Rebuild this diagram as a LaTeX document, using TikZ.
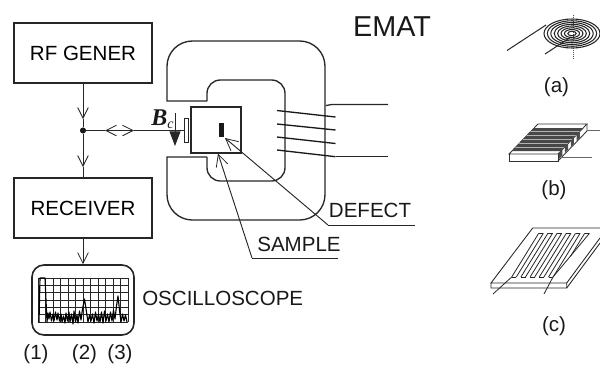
\documentclass[tikz,border=0pt]{standalone}
\usepackage{fontspec}
\setmainfont{Liberation Sans}
\newfontfamily\serifbi[BoldFont={Liberation Serif Bold Italic},ItalicFont={Liberation Serif Italic}]{Liberation Serif}
\usetikzlibrary{arrows.meta}
\tikzset{
  box/.style={draw=black!85,line width=1.2pt,minimum width=103.5pt,minimum height=45pt,inner sep=0pt,font=\lab},
  lab/.style={inner sep=0pt,font=\lab,text=black!90},
  thin line/.style={draw=black!85,line width=0.7pt},
  med line/.style={draw=black!85,line width=0.95pt},
  barb/.style={thin line,-{Straight Barb[length=8pt,width=8pt,line width=0.6pt]}},
  bigbarb/.style={thin line,-{Straight Barb[length=9pt,width=9pt,line width=0.6pt]}},
}
\newcommand{\lab}{\fontsize{15.4}{18}\selectfont}
\begin{document}
\begin{tikzpicture}[x=0.75pt,y=-0.75pt]
\useasboundingbox (0,0) rectangle (600,365);
% block diagram
\node[box] (rf) at (83,53) {RF GENER};
\node[box] (rx) at (83,208) {RECEIVER};
\node[circle,fill=black!90,minimum size=4.6pt,inner sep=0pt] (j) at (83,130.5) {};
\coordinate (t1) at (83,119);
\coordinate (t2) at (83,167);
\draw[barb] (rf.south) -- (t1);
\draw[thin line] (t1) -- (j);
\draw[barb] (j) -- (t2);
\draw[thin line] (t2) -- (rx.north);
% scope
\node[draw=black!85,line width=1.2pt,rounded corners=9pt,minimum width=76.5pt,minimum height=52.5pt,inner sep=0pt] (scope) at (83,300) {};
\draw[barb] (rx.south) -- (scope.north);
\foreach \x in {38,45.5,53,60.5,68,75.5,83,90.5,98,105.5,113,120.5,128}
  \draw[black!85,line width=0.55pt] (\x,278) -- (\x,322);
\foreach \y in {278,285.3,292.6,299.9,307.2,314.5,322}
  \draw[black!85,line width=0.55pt] (38,\y) -- (128,\y);
\draw[black,line width=0.85pt,line join=round] (39,322) -- (40,278) -- (45,278) -- (47,322) -- (48,313) -- (49,319) -- (50,312) -- (51.5,321) -- (53,314) -- (54,321) -- (55.5,312) -- (57,320) -- (58,313) -- (59.5,321) -- (61,314) -- (62,322) -- (63.5,316) -- (65,323) -- (66,313) -- (67.5,321) -- (69,312) -- (70,322) -- (71.5,314) -- (73,324) -- (74,311) -- (75.5,322) -- (77,315) -- (78,323) -- (79.5,311) -- (81,320) -- (82.5,309) -- (84.5,299) -- (86.5,312) -- (88,322) -- (89.5,315) -- (91,321) -- (92.5,314) -- (94,323) -- (95.5,312) -- (97,321) -- (98.5,314) -- (100,322) -- (101.5,312) -- (103,323) -- (104.5,311) -- (106,321) -- (107.5,314) -- (109,322) -- (110.5,312) -- (112,321) -- (113.5,310) -- (115,319) -- (116.5,306) -- (118,296) -- (119.5,310) -- (121,322) -- (122.5,314) -- (124,321) -- (125.5,315) -- (127,322);
\node[lab,anchor=west] (osc) at (142,298) {OSCILLOSCOPE};
\node[lab] (l1) at (36,354) {(1)};
\node[lab] (l2) at (84.5,354) {(2)};
\node[lab] (l3) at (120,354) {(3)};
\node[lab,font=\fontsize{21.6}{24}\selectfont] (emat) at (392,27) {EMAT};
% magnet
\draw[black!85,line width=1pt]
  (207,157) -- (167,157) [rounded corners=19pt] -- (167,220) -- (325,220) -- (325,41) -- (167,41) [sharp corners] -- (167,101) -- (207,101);
\draw[black!85,line width=1pt,rounded corners=10pt]
  (207,101) -- (207,80) -- (285,80) -- (285,181) -- (207,181) -- (207,157);
% coil
\coordinate (c1a) at (277,110.5); \coordinate (c1b) at (335.5,117);
\coordinate (c2a) at (277,124);   \coordinate (c2b) at (335.5,130);
\coordinate (c3a) at (277,137);   \coordinate (c3b) at (335.5,143.5);
\coordinate (c4a) at (277,150);   \coordinate (c4b) at (335.5,156.7);
\draw[black!90,line width=1pt] (c1a)--(c1b) (c2a)--(c2b) (c3a)--(c3b) (c4a)--(c4b);
\coordinate (ld1) at (388,104.5);
\coordinate (ld2) at (388,156.7);
\draw[med line] (326,105.5) -- (332,104.5) -- (ld1);
\draw[med line] (c4b) -- (ld2);
% sample
\node[draw=black!85,line width=1.2pt,minimum width=37.5pt,minimum height=34.5pt,inner sep=0pt,fill=white] (sample) at (216,130) {};
\node[fill=black!90,minimum width=3.8pt,minimum height=10.5pt,inner sep=0pt] (defect) at (221.5,130) {};
\node[draw=black!85,line width=0.55pt,fill=white,minimum width=3pt,minimum height=18pt,inner sep=0pt] (pad) at (186.3,130.5) {};
% transducer line
\coordinate (v1) at (105,130.5);
\coordinate (v2) at (134,130.5);
\coordinate (vm) at (119.5,130.5);
\draw[thin line] (j) -- (v1);
\draw[barb] (vm) -- (v1);
\draw[barb] (vm) -- (v2);
\draw[thin line] (v2) -- (pad.west);
% Bc
\coordinate (b1) at (175,113);
\coordinate (b2) at (175,146);
\draw[thin line,-{Triangle[length=11pt,width=8.2pt]}] (b1) -- (b2);
\node[inner sep=0pt,anchor=base west,font={\serifbi\fontsize{18}{20}\selectfont\bfseries\itshape},text=black!90] (bc) at (151,125) {B\raisebox{-2.5pt}{\fontsize{10.5}{11}\selectfont\mdseries\itshape c}};
% labels with leaders
\node[lab] (dl) at (370,210) {DEFECT};
\node[lab] (sl) at (299,244) {SAMPLE};
\coordinate (de) at (415,225);
\coordinate (dk) at (328,225);
\coordinate (dt) at (225,138);
\coordinate (se) at (338,258);
\coordinate (sk) at (252,258);
\coordinate (st) at (218,153.5);
\draw[thin line] (de) -- (dk);
\draw[bigbarb] (dk) -- (dt);
\draw[thin line] (se) -- (sk);
\draw[bigbarb] (sk) -- (st);
% (a) spiral coil
\coordinate (sc) at (572,33.5);
\draw[black!70,line width=0.55pt,densely dotted] (573,15) -- (573,60);
\foreach \i in {0,...,7}
  \draw[black!85,line width=0.8pt] (sc) ellipse[x radius={28-3.4*\i},y radius={14.5-1.75*\i}];
\coordinate (al1) at (507,50.5);
\coordinate (al2) at (545,54);
\draw[black!85,line width=0.75pt] (al1) -- (546,25);
\draw[black!85,line width=0.75pt] (al2) -- (571,37);
\node[lab] (la) at (556.5,87) {(a)};
% (b) meander plate
\draw[black!80,line width=0.65pt] (538,124) -- (587,124) -- (558,154) -- (509,154) -- cycle;
\draw[black!80,line width=0.65pt] (509,154) -- (509,161) -- (558,161) -- (558,154);
\draw[black!80,line width=0.65pt] (587,124) -- (587,131) -- (558,161);
\fill[black!72] (534,128) -- (583,128) -- (560.5,151) -- (512,151) -- cycle;
\begin{scope}
\clip (534,128) -- (583,128) -- (560.5,151) -- (512,151) -- cycle;
\foreach \y in {131,135,139,143,147}
  \draw[black!30,line width=0.7pt] (505,\y) -- (590,\y);
\end{scope}
\foreach \t in {0.04,0.24,0.44,0.64}
  \fill[black!70] ({558+29*\t},{154-30*\t}) -- ({558+29*(\t+.11)},{154-30*(\t+.11)}) -- ({558+29*(\t+.11)},{160-30*(\t+.11)}) -- ({558+29*\t},{160-30*\t}) -- cycle;
\coordinate (bl1) at (600,130);
\coordinate (bl2) at (592,157);
\draw[black!60,line width=0.75pt] (587,130) -- (bl1);
\draw[black!60,line width=0.75pt] (561,157) -- (bl2);
\node[lab] (lb) at (554,190) {(b)};
% (c) meander plate
\draw[black!85,line width=0.65pt] (600,228) -- (532.7,228) -- (491,283) -- (566.7,283) -- (566.7,288) -- (491,288) -- (491,283);
\draw[black!85,line width=0.65pt] (566.7,283) -- (600,238);
\draw[black!85,line width=0.65pt] (566.7,288) -- (600,243);
\foreach \i [evaluate=\i as \xa using 511.7+4.6*\i] in {0,...,9}
  \draw[black!85,line width=0.6pt] (\xa,277) -- ({\xa+27},233.3);
\draw[black!85,line width=0.6pt] (584.7,233.3) -- (570.4,256.5);
\draw[black!85,line width=0.6pt] (589.5,233.3) -- (553,277);
\foreach \i [evaluate=\i as \xa using 511.7+4.6*\i] in {0,2,4,6,8}
  \draw[black!85,line width=0.6pt] (\xa,277) -- ({\xa+4.6},277);
\foreach \i [evaluate=\i as \xa using 538.7+4.6*\i] in {0,2,4,6,8,10}
  \draw[black!85,line width=0.6pt] (\xa,233.3) -- ({\xa+4.6},233.3);
\coordinate (cl1) at (493,294);
\coordinate (cl2) at (544,294);
\draw[black!85,line width=0.6pt] (cl1) -- (511.7,277);
\draw[black!85,line width=0.6pt] (cl2) -- (553,277);
\node[lab] (lc) at (554,326) {(c)};
\end{tikzpicture}
\end{document}
